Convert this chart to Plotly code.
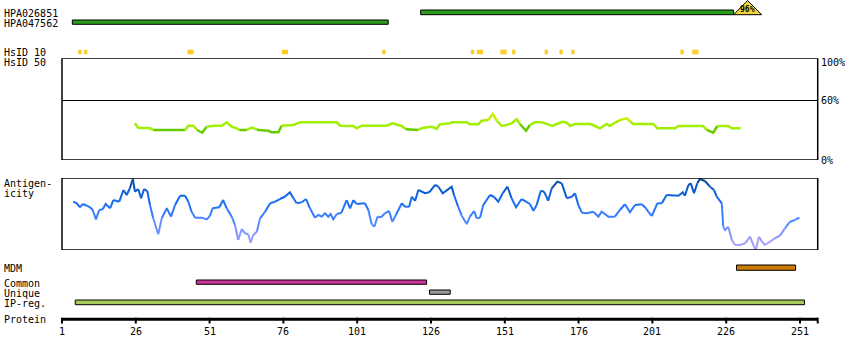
import plotly.graph_objects as go

# ---------------- data ----------------
protein_length = 257
tick_residues = [1, 26, 51, 76, 101, 126, 151, 176, 201, 226, 251]
tick_labels = [str(t) for t in tick_residues]

antibody_names = ["HPA026851", "HPA047562"]
antibody_start = [123, 5]
antibody_end = [228, 111]
antibody_identity = ["96%", ""]

hsid10_start = [7, 9, 44, 76, 110, 140, 142, 150, 154, 165, 170, 174, 211, 215]
hsid10_end = [7, 9, 45, 77, 110, 140, 143, 151, 154, 165, 170, 174, 211, 216]

hsid50_residue = [25.7, 26.8, 30.8, 31.9, 42.7, 43.8, 45.5, 46.8, 48.5, 50.0, 52.3, 55.1, 56.8, 58.5,
                  60.2, 61.1, 63.6, 65.3, 67.0, 67.5, 70.9, 72.0, 74.3, 75.4, 79.4, 81.6, 94.1, 95.2,
                  99.7, 100.8, 102.5, 111.0, 113.0, 114.9, 116.1, 117.5, 121.7, 122.8, 125.7, 126.8,
                  127.9, 129.0, 132.4, 133.0, 138.1, 139.2, 142.0, 143.2, 145.4, 146.9, 148.3, 150.0,
                  151.6, 153.3, 155.0, 156.1, 158.2, 159.5, 161.2, 163.5, 165.2, 167.2, 168.6, 170.6,
                  172.0, 173.1, 174.8, 179.9, 181.6, 183.3, 184.4, 185.5, 186.6, 187.5, 190.0, 192.3,
                  193.6, 194.5, 201.3, 202.7, 208.7, 209.8, 218.2, 219.4, 221.6, 223.0, 226.7, 227.9,
                  230.9]
hsid50_identity = [37.0, 32.6, 32.0, 30.3, 30.3, 34.6, 34.6, 30.3, 27.5, 33.6, 34.6, 34.6, 38.0, 33.6,
                   32.0, 30.3, 30.3, 32.6, 31.0, 30.3, 29.5, 27.9, 27.9, 34.6, 35.3, 38.0, 38.0, 34.6,
                   34.3, 32.0, 34.6, 34.6, 37.0, 35.3, 34.3, 31.0, 30.3, 32.0, 33.6, 33.0,
                   31.3, 36.0, 37.0, 38.0, 38.0, 36.0, 36.0, 39.6, 40.3, 46.4, 39.6, 34.3,
                   35.3, 37.0, 41.0, 36.3, 29.5, 35.3, 38.0, 38.0, 36.0, 34.3, 36.3, 38.6,
                   37.6, 34.3, 36.3, 36.3, 34.3, 32.0, 34.3, 36.3, 34.3, 36.3, 40.3, 42.1,
                   38.6, 36.3, 36.3, 32.0, 32.0, 34.3, 34.3, 30.3, 27.5, 34.3, 34.3, 32.0,
                   32.0]

antigen_residue = [4.8, 6.0, 7.1, 8.0, 9.4, 10.5, 11.4, 12.5, 13.6, 14.8, 15.8, 17.3, 18.4, 20.4, 21.8,
                   22.9, 24.0, 25.0, 25.7, 26.8, 27.8, 28.8, 29.9, 30.8, 31.9, 33.6, 34.8, 36.5, 37.9,
                   39.3, 41.0, 42.7, 43.8, 44.9, 46.1, 48.3, 50.0, 51.1, 52.0, 54.3, 55.6, 56.8, 58.5,
                   59.6, 60.7, 61.9, 63.0, 64.1, 64.9, 65.8, 67.0, 68.1, 69.8, 71.5, 73.2, 74.8, 76.5,
                   78.2, 79.4, 80.5, 82.2, 83.7, 85.0, 86.7, 87.8, 89.0, 90.1, 91.2, 92.0, 92.9, 94.1,
                   95.7, 97.4, 98.6, 99.7, 100.8, 103.6, 104.8, 105.9, 106.8, 107.9, 109.1, 110.1,
                   111.8, 112.9, 114.1, 116.1, 117.2, 118.6, 119.5, 120.6, 121.7, 124.0, 125.4, 127.4,
                   128.5, 130.0, 133.0, 133.8, 135.2, 136.4, 138.1, 139.2, 140.6, 141.5, 142.6, 143.7,
                   146.0, 147.3, 148.8, 150.3, 151.9, 153.3, 154.8, 156.7, 158.2, 159.5, 160.7, 161.8,
                   163.2, 164.3, 165.7, 166.9, 168.8, 170.3, 172.0, 173.7, 174.8, 175.9, 177.1, 178.7,
                   181.0, 182.7, 183.8, 186.1, 188.3, 190.0, 191.7, 193.4, 195.1, 197.4, 198.8, 199.6,
                   200.8, 202.7, 204.2, 205.8, 208.7, 209.8, 211.3, 212.0, 213.2, 214.0, 215.1, 216.2,
                   217.1, 218.8, 220.5, 221.9, 222.8, 224.5, 225.0, 225.6, 226.7, 227.9, 229.0, 230.7,
                   232.4, 234.1, 235.2, 236.0, 237.1, 238.0, 239.1, 240.8, 242.5, 244.2, 245.9, 247.6,
                   249.3, 250.8]
antigen_score = [67.1, 64.9, 59.3, 63.9, 61.5, 59.3, 55.6, 42.6, 55.6, 56.5, 63.9, 57.9, 69.4, 67.1, 83.3,
                 76.4, 85.7, 98.6, 81.0, 84.7, 71.8, 84.7, 81.9, 62.5, 44.0, 21.8, 44.0, 57.9, 46.3,
                 62.5, 75.4, 75.4, 67.1, 53.2, 44.9, 44.9, 42.6, 47.2, 57.9, 59.3, 69.4, 57.9, 46.3,
                 34.7, 13.9, 29.2, 23.2, 21.8, 10.1, 20.8, 25.4, 44.0, 53.2, 64.9, 67.1, 70.8, 74.0,
                 80.1, 71.8, 64.9, 66.3, 70.8, 57.9, 44.9, 48.6, 46.3, 51.0, 46.3, 50.0, 42.6, 50.0,
                 51.8, 69.4, 57.9, 69.4, 63.9, 64.9, 55.6, 35.7, 32.4, 46.3, 45.4, 50.0,
                 54.2, 39.3, 48.6, 64.9, 60.1, 60.1, 74.0, 68.1, 83.3, 78.8, 80.1, 90.3,
                 87.9, 78.8, 87.9, 76.4, 60.1, 47.6, 36.1, 46.3, 54.2, 44.0, 44.9, 62.5,
                 76.4, 74.0, 67.1, 78.8, 87.9, 71.8, 59.3, 70.8, 67.1, 63.9, 54.6, 62.5,
                 82.4, 81.0, 68.5, 85.7, 94.9, 92.6, 71.8, 74.0, 78.8, 62.5, 51.8, 51.0,
                 53.2, 46.3, 53.2, 46.3, 46.3, 55.6, 63.5, 52.4, 62.5, 63.5, 57.9, 53.2,
                 47.2, 64.9, 64.9, 76.4, 75.4, 75.4, 80.1, 75.4, 90.3, 92.6, 78.8, 92.6,
                 98.6, 95.8, 87.9, 83.3, 74.0, 64.9, 32.4, 27.8, 32.4, 13.9, 6.9, 6.9,
                 9.3, 18.5, 6.9, 0.0, 18.5, 12.5, 6.9, 11.5, 16.3, 19.9, 30.1, 39.3,
                 41.7, 44.9]

mdm_start, mdm_end = [230], [249]
common_start, common_end = [47], [124]
unique_start, unique_end = [126], [132]
ipreg_start, ipreg_end = [6], [252]

assert len(hsid50_residue) == len(hsid50_identity)
assert len(antigen_residue) == len(antigen_score)

# ---------------- layout / style ----------------
W, H = 850, 360
FONT = "DejaVu Sans Mono"
PX_PER_RES = 2.952
X0_PX = 62
x_range = [1 - X0_PX / PX_PER_RES, 1 + (W - X0_PX) / PX_PER_RES]

HS_TOP, HS_BOT = 58.3, 160.0
HS_MAX = 102.6
AG_TOP, AG_BOT = 178.0, 250.0

fig = go.Figure()


def lerp_color(stops, v):
    if v <= stops[0][0]:
        c = stops[0][1]
    elif v >= stops[-1][0]:
        c = stops[-1][1]
    else:
        for (a, ca), (b, cb) in zip(stops[:-1], stops[1:]):
            if a <= v <= b:
                t = (v - a) / (b - a)
                c = tuple(ca[k] + (cb[k] - ca[k]) * t for k in range(3))
                break
    return "rgb(%d,%d,%d)" % tuple(int(round(x)) for x in c)


AG_STOPS = [(0, (178, 170, 244)), (20, (140, 152, 255)), (40, (80, 138, 255)), (55, (44, 120, 252)),
            (70, (20, 106, 240)), (85, (10, 88, 200)), (100, (6, 62, 132))]


def ag_color(a, b):
    m = (a + b) / 2.0
    m = round(m / 4.0) * 4.0
    return lerp_color(AG_STOPS, m)


def hs_color(a, b):
    if min(a, b) < 30.0 or (a + b) / 2 < 31.0:
        return "#66cc00"
    if max(a, b) >= 42.0:
        return "#ccee00"
    return "#a0f000"


def add_colored_line(xs, ys, colfn, yaxis, width):
    groups = []
    for i in range(len(xs) - 1):
        c = colfn(ys[i], ys[i + 1])
        if groups and groups[-1][0] == c:
            groups[-1][1].append(xs[i + 1])
            groups[-1][2].append(ys[i + 1])
        else:
            groups.append([c, [xs[i], xs[i + 1]], [ys[i], ys[i + 1]]])
    for c, gx, gy in groups:
        fig.add_trace(go.Scatter(x=gx, y=gy, mode="lines", yaxis=yaxis,
                                 line=dict(color=c, width=width),
                                 hoverinfo="skip", showlegend=False))


add_colored_line(hsid50_residue, hsid50_identity, hs_color, "y2", 2.5)
add_colored_line(antigen_residue, antigen_score, ag_color, "y3", 2)

shapes = []
annotations = []


def label(text, ypx, **kw):
    annotations.append(dict(x=2 / W, xref="paper", y=ypx, yref="y", text=text, showarrow=False,
                            xanchor="left", yanchor="middle",
                            font=dict(family=FONT, size=10, color="black"), **kw))


def bar(s, e, y0, y1, fill, lw=1):
    shapes.append(dict(type="rect", xref="x", yref="y", x0=s - 0.5, x1=e + 0.5, y0=y0, y1=y1,
                       fillcolor=fill, line=dict(color="black", width=lw), layer="above"))


# antibodies
ab_rows = [(10.0, 14.7, 13), (20.0, 24.3, 23)]
for name, s, e, ident, (y0, y1, ly) in zip(antibody_names, antibody_start, antibody_end,
                                             antibody_identity, ab_rows):
    label(name, ly)
    bar(s, e, y0, y1, "#2a9d1a")
    if ident:
        tx0 = e + 0.5
        tx1 = tx0 + 9.5
        shapes.append(dict(type="path", xref="x", yref="y",
                           path="M %f,%f L %f,%f L %f,%f Z" % (tx0, y1, (tx0 + tx1) / 2, 0.5, tx1, y1),
                           fillcolor="#f2d43c", line=dict(color="black", width=1)))
        annotations.append(dict(x=(tx0 + tx1) / 2, xref="x", y=9.8, yref="y", text="<b>" + ident + "</b>",
                                showarrow=False, xanchor="center", yanchor="middle",
                                font=dict(family=FONT, size=8, color="black")))

# HsID 10
label("HsID 10", 52.5)
for s, e in zip(hsid10_start, hsid10_end):
    shapes.append(dict(type="rect", xref="x", yref="y", x0=s - 0.5, x1=e + 0.6, y0=49.7, y1=54.3,
                       fillcolor="#fdcb22", line=dict(width=0)))

# HsID 50 box
label("HsID 50", 62.5)
shapes.append(dict(type="rect", xref="x", yref="y2", x0=1, x1=protein_length, y0=0, y1=HS_MAX,
                   line=dict(color="black", width=1.5)))
shapes.append(dict(type="line", xref="x", yref="y2", x0=1, x1=protein_length, y0=60, y1=60,
                   line=dict(color="black", width=1)))
for val, txt, ys in [(100, "100%", -2), (60, "60%", 0), (0, "0%", 0)]:
    annotations.append(dict(x=protein_length, xref="x", y=val, yref="y2", text=txt, showarrow=False,
                            xanchor="left", yanchor="middle", xshift=1, yshift=ys,
                            font=dict(family=FONT, size=10, color="black")))

# antigenicity box
label("Antigen-", 183.5)
label("icity", 193.3)
shapes.append(dict(type="rect", xref="x", yref="y3", x0=1, x1=protein_length, y0=0, y1=100,
                   line=dict(color="black", width=1.5)))

# bottom tracks
label("MDM", 268.5)
for s, e in zip(mdm_start, mdm_end):
    bar(s, e, 265.0, 270.3, "#cc7a00")
label("Common", 283)
for s, e in zip(common_start, common_end):
    bar(s, e, 280.0, 284.3, "#cc3399")
label("Unique", 293)
for s, e in zip(unique_start, unique_end):
    bar(s, e, 290.0, 294.3, "#999999")
label("IP-reg.", 303)
for s, e in zip(ipreg_start, ipreg_end):
    bar(s, e, 300.0, 304.7, "#a8cc5c")

# protein axis
label("Protein", 319.5)
shapes.append(dict(type="line", xref="x", yref="y", x0=1, x1=protein_length, y0=319.2, y1=319.2,
                   line=dict(color="black", width=3)))
for t in tick_residues + [protein_length]:
    shapes.append(dict(type="line", xref="x", yref="y", x0=t, x1=t, y0=317.7, y1=323.5,
                       line=dict(color="black", width=2)))
for t, lab in zip(tick_residues, tick_labels):
    annotations.append(dict(x=t, xref="x", y=331.5, yref="y", text=lab, showarrow=False,
                            xanchor="center", yanchor="middle",
                            font=dict(family=FONT, size=10, color="black")))

fig.update_layout(
    width=W, height=H,
    margin=dict(l=0, r=0, t=0, b=0, pad=0),
    paper_bgcolor="white", plot_bgcolor="white",
    showlegend=False,
    xaxis=dict(range=x_range, visible=False, fixedrange=True),
    yaxis=dict(domain=[0, 1], range=[H, 0], visible=False, fixedrange=True),
    yaxis2=dict(domain=[1 - HS_BOT / H, 1 - HS_TOP / H], range=[0, HS_MAX], visible=False,
                anchor="x", fixedrange=True),
    yaxis3=dict(domain=[1 - AG_BOT / H, 1 - AG_TOP / H], range=[0, 100], visible=False,
                anchor="x", fixedrange=True),
    shapes=shapes,
    annotations=annotations,
)

fig.write_html(
    "out.html",
    config={"displayModeBar": False},
    post_script="document.body.style.margin='0';document.body.style.padding='0';"
                "document.documentElement.style.overflow='hidden';",
)
